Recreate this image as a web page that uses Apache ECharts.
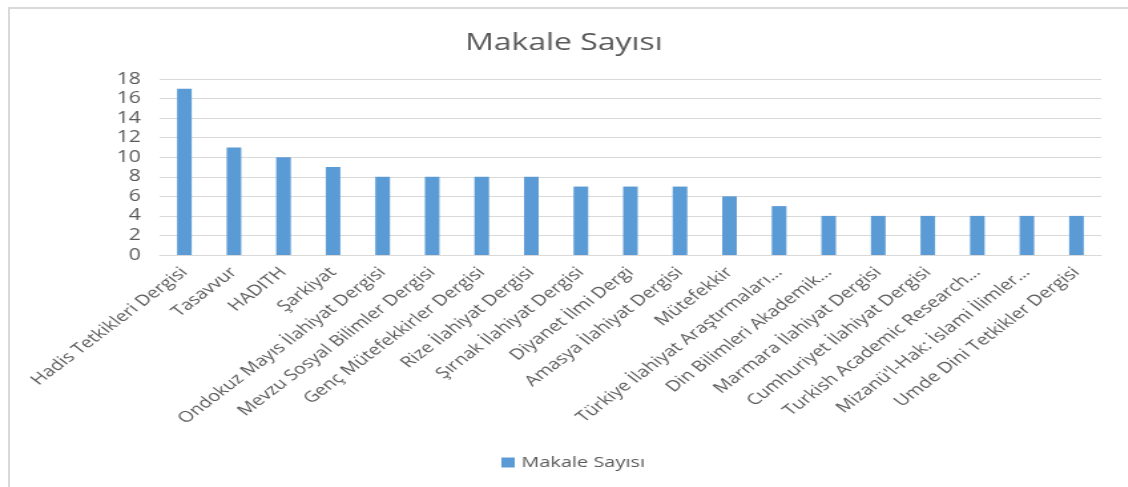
<!DOCTYPE html>
<html>
<head>
<meta charset="utf-8">
<script src="https://cdn.jsdelivr.net/npm/echarts@6/dist/echarts.min.js"></script>
<style>
  html, body { margin: 0; padding: 0; background: #fff; overflow: hidden; }
  #frame { position: absolute; left: 8px; top: 7px; width: 1140px; height: 500px; border: 2px solid #d9d9d9; box-sizing: border-box; }
  /* the source picture is stretched sideways, so the chart is too */
  #chart { position: absolute; left: 0; top: 0; width: 848px; height: 487px; transform: scaleX(1.33); transform-origin: 0 0; }
</style>
</head>
<body>
<div id="frame"></div>
<div id="chart"></div>
<script>
// dergi adları
const journals = [
  'Hadis Tetkikleri Dergisi', 'Tasavvur', 'HADITH', 'Şarkiyat',
  'Ondokuz Mayıs İlahiyat Dergisi', 'Mevzu Sosyal Bilimler Dergisi',
  'Genç Mütefekkirler Dergisi', 'Rize İlahiyat Dergisi', 'Şırnak İlahiyat Dergisi',
  'Diyanet İlmi Dergi', 'Amasya İlahiyat Dergisi', 'Mütefekkir',
  'Türkiye İlahiyat Araştırmaları…', 'Din Bilimleri Akademik…',
  'Marmara İlahiyat Dergisi', 'Cumhuriyet İlahiyat Dergisi',
  'Turkish Academic Research…', "Mizanü'l-Hak: İslami İlimler…",
  'Umde Dini Tetkikler Dergisi'
]
// makale sayıları
const articleCounts = [17, 11, 10, 9, 8, 8, 8, 8, 7, 7, 7, 6, 5, 4, 4, 4, 4, 4, 4]
const seriesName = 'Makale Sayısı'

const textColor = '#595959'
const font = 'Open Sans'

const chart = echarts.init(document.getElementById('chart'))
chart.setOption({
  animation: false,
  title: {
    text: 'Makale Sayısı',
    left: 'center',
    top: 26,
    textStyle: { fontFamily: font, fontSize: 24, fontWeight: 'normal', color: textColor }
  },
  legend: {
    data: [seriesName],
    bottom: 12,
    left: 372,
    icon: 'rect',
    itemWidth: 10,
    itemHeight: 10,
    itemGap: 4,
    textStyle: { fontFamily: font, fontSize: 15, color: textColor }
  },
  grid: {
    left: 120,
    right: 20,
    top: 79,
    bottom: 232,
    outerBoundsMode: 'none'
  },
  xAxis: {
    type: 'category',
    data: journals,
    axisTick: { show: false },
    axisLine: { lineStyle: { color: '#d9d9d9', width: 1 } },
    axisLabel: {
      interval: 0,
      rotate: 45,
      margin: 15,
      fontFamily: font,
      fontSize: 15,
      color: textColor
    }
  },
  yAxis: {
    type: 'value',
    min: 0,
    max: 18,
    interval: 2,
    axisLine: { show: false },
    axisTick: { show: false },
    splitLine: { lineStyle: { color: '#d9d9d9', width: 1 } },
    axisLabel: { fontFamily: font, fontSize: 16, color: textColor, margin: 14 }
  },
  series: [{
    name: seriesName,
    type: 'bar',
    data: articleCounts,
    barWidth: 11,
    itemStyle: { color: '#5b9bd5' }
  }]
})
</script>
</body>
</html>
